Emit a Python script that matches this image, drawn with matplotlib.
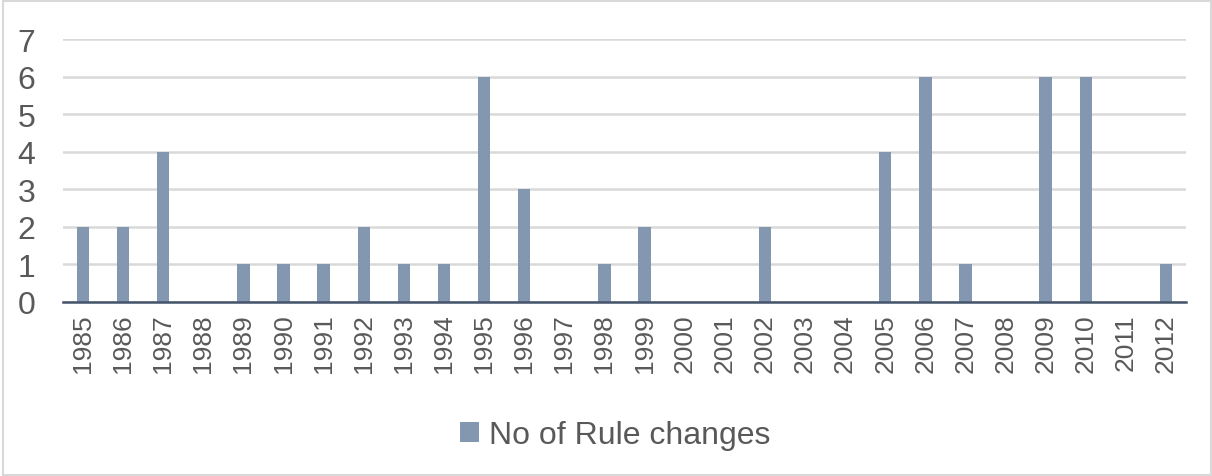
import matplotlib
matplotlib.use("Agg")
import matplotlib.pyplot as plt
from matplotlib.patches import Rectangle

years = [str(y) for y in range(1985, 2013)]
rule_changes = [2, 2, 4, 0, 1, 1, 1, 2, 1, 1, 6, 3, 0, 1, 2, 0, 0, 2, 0, 0, 4, 6, 1, 0, 6, 6, 0, 1]
yticks = [0, 1, 2, 3, 4, 5, 6, 7]
series_name = "No of Rule changes"

W, H = 1212, 477
fig = plt.figure(figsize=(W / 100, H / 100), dpi=100)
plt.rcParams['font.family'] = ['Liberation Sans', 'DejaVu Sans']

left, right, top, bottom = 63, 1186, 40, 303
ax = fig.add_axes([left / W, 1 - bottom / H, (right - left) / W, (bottom - top) / H])

x = list(range(len(years)))
ax.bar(x, rule_changes, width=0.31, color='#8497B0', label=series_name, zorder=3)
ax.set_xlim(-0.5, len(years) - 0.5)
ax.set_ylim(0, 7)
ax.set_yticks(yticks)
ax.set_yticklabels([str(v) for v in yticks])
ax.set_xticks(x)
ax.set_xticklabels(years, rotation=90)

for s in ['top', 'right', 'left']:
    ax.spines[s].set_visible(False)
ax.spines['bottom'].set_color('#44546A')
ax.spines['bottom'].set_linewidth(1.8)
ax.spines['bottom'].set_zorder(4)

ax.yaxis.grid(True, color='#D9D9D9', linewidth=1.8, zorder=0)
ax.set_axisbelow(True)
ax.tick_params(axis='y', length=0, pad=20, labelsize=23, labelcolor='#595959')
ax.tick_params(axis='x', length=0, pad=8, labelsize=19, labelcolor='#595959')

leg = fig.legend(loc='center', bbox_to_anchor=(615 / W, 1 - 436 / H), frameon=False,
                 fontsize=23, labelcolor='#595959', handlelength=0.6, handleheight=0.6,
                 handletextpad=0.3)

fig.patches.append(Rectangle((3 / W, 1 / H), (W - 4) / W, (H - 3) / H,
                             transform=fig.transFigure, fill=False,
                             edgecolor='#D9D9D9', linewidth=1.5))

fig.savefig('out.png', dpi=100, facecolor='white')
